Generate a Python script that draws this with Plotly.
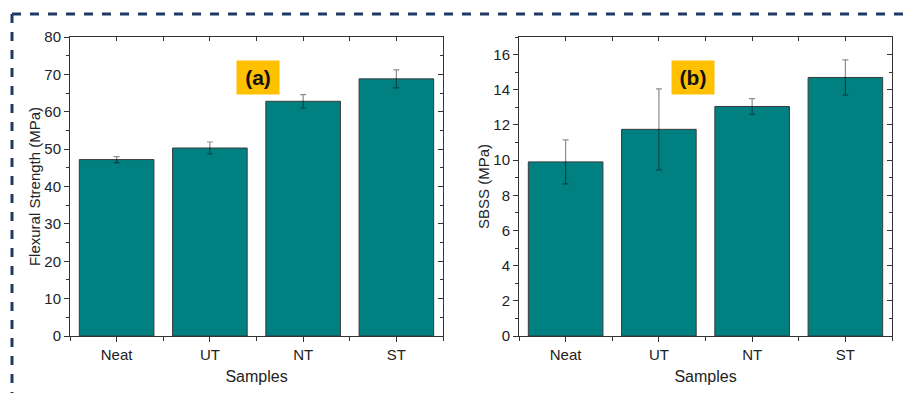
import plotly.graph_objects as go

samples = ["Neat", "UT", "NT", "ST"]
flexural = [47.2, 50.3, 62.8, 68.8]
flexural_err = [0.8, 1.6, 1.8, 2.4]
sbss = [9.9, 11.75, 13.05, 14.7]
sbss_err = [1.25, 2.3, 0.45, 1.0]

W, H = 908, 393
BAR = "#008080"
AX = "#333333"
FONT = "Liberation Sans, Arial, sans-serif"

def px(x):
    return x / W

def py(y):
    return 1 - y / H

fig = go.Figure()
for xa, ya, vals, errs in [("x", "y", flexural, flexural_err), ("x2", "y2", sbss, sbss_err)]:
    fig.add_trace(go.Bar(
        x=samples, y=vals, xaxis=xa, yaxis=ya, width=0.8,
        marker=dict(color=BAR, line=dict(color="#3a3a3a", width=1)),
        error_y=dict(type="data", array=errs, visible=True,
                     color="rgba(0,0,0,0.45)", thickness=1.2, width=3),
        showlegend=False,
    ))

ydom = [py(336), py(37)]
common_font = dict(family=FONT, size=15, color="#222")

def xmain(dom):
    return dict(domain=dom, type="category", range=[-0.5, 3.5], showline=True,
                linecolor=AX, linewidth=1, ticks="outside", ticklen=5,
                tickcolor=AX, tickfont=common_font, showgrid=False, zeroline=False,
                title=dict(text="Samples", font=dict(family=FONT, size=16, color="#222"), standoff=8),
                fixedrange=True, automargin=False)

def xbot(over, anchor):
    return dict(overlaying=over, anchor=anchor, side="bottom", range=[-0.5, 3.5],
                tickvals=[-0.5, 0.5, 1.5, 2.5, 3.5], ticks="outside", ticklen=4,
                tickcolor=AX, showticklabels=False, showline=False, showgrid=False,
                zeroline=False, automargin=False)

def xtop(over, anchor):
    return dict(overlaying=over, anchor=anchor, side="top", range=[-0.5, 3.5],
                tickvals=[-0.5, 0, 0.5, 1, 1.5, 2, 2.5, 3, 3.5], ticks="inside", ticklen=4,
                tickcolor=AX, showticklabels=False, showline=True, linecolor=AX,
                linewidth=1, showgrid=False, zeroline=False, automargin=False)

def ymain(anchor, rng, dt, title):
    return dict(domain=ydom, anchor=anchor, range=rng, dtick=dt, showline=True,
                linecolor=AX, linewidth=1, ticks="outside", ticklen=5, tickcolor=AX,
                minor=dict(dtick=dt / 2, ticks="outside", ticklen=3, tickcolor=AX),
                tickfont=common_font, showgrid=False, zeroline=False,
                title=dict(text=title, font=dict(family=FONT, size=15, color="#222"), standoff=0),
                fixedrange=True, automargin=False)

def yright(over, anchor, rng, dt):
    return dict(overlaying=over, anchor=anchor, side="right", range=rng, dtick=dt,
                ticks="inside", ticklen=5, tickcolor=AX, showticklabels=False,
                minor=dict(dtick=dt / 2, ticks="inside", ticklen=3, tickcolor=AX),
                showline=True, linecolor=AX, linewidth=1, showgrid=False, zeroline=False,
                automargin=False)

layout = dict(
    width=W, height=H, margin=dict(l=0, r=0, t=0, b=0, autoexpand=False),
    paper_bgcolor="white", plot_bgcolor="white", bargap=0.2,
    xaxis=dict(**xmain([px(70), px(443)]), anchor="y"),
    xaxis2=dict(**xmain([px(519), px(892)]), anchor="y2"),
    xaxis3=xbot("x", "y"), xaxis4=xbot("x2", "y2"),
    xaxis5=xtop("x", "y"), xaxis6=xtop("x2", "y2"),
    yaxis=ymain("x", [0, 80], 10, "Flexural Strength (MPa)"),
    yaxis2=ymain("x2", [0, 17], 2, "SBSS (MPa)"),
    yaxis3=yright("y", "x", [0, 80], 10),
    yaxis4=yright("y2", "x2", [0, 17], 2),
)
fig.update_layout(**layout)

for xa, ya in [("x3", "y"), ("x4", "y2"), ("x5", "y"), ("x6", "y2"), ("x", "y3"), ("x2", "y4")]:
    fig.add_trace(go.Scatter(x=[], y=[], xaxis=xa, yaxis=ya, showlegend=False, hoverinfo="skip"))

for label, cx in [("(a)", 236), ("(b)", 715)]:
    fig.add_annotation(text="<b>%s</b>" % label, xref="paper", yref="paper",
                       x=px(cx), y=py(60), showarrow=False,
                       font=dict(family=FONT, size=21, color="#111"),
                       bgcolor="#FFC000", width=38, height=29, borderpad=2)

dash = dict(color="#1F3864", width=3, dash="dash")
fig.add_shape(type="line", xref="paper", yref="paper", x0=px(12), y0=py(14), x1=px(912), y1=py(14), line=dash)
fig.add_shape(type="line", xref="paper", yref="paper", x0=px(12), y0=py(14), x1=px(12), y1=py(400), line=dash)

fig.write_html("out.html", config=dict(displayModeBar=False),
               post_script="document.body.style.margin='0';document.body.style.overflow='hidden';")
